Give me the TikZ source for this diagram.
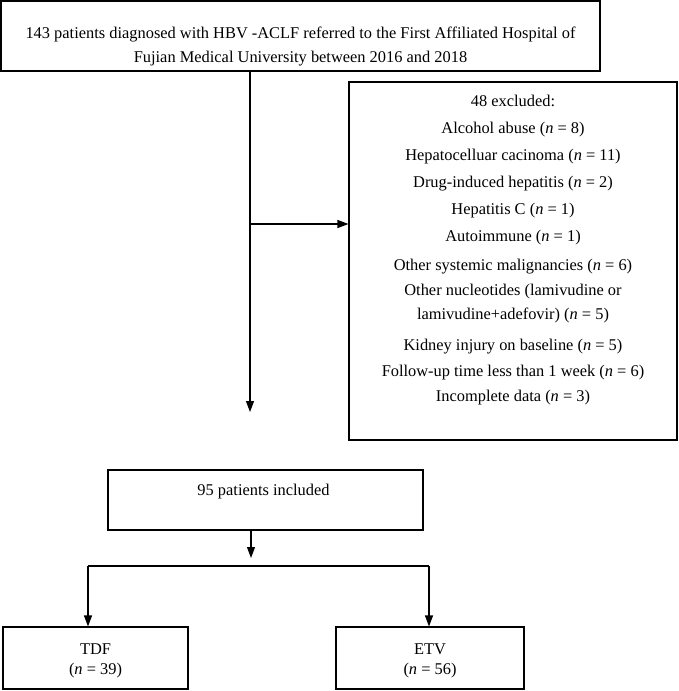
\documentclass[tikz,border=0pt]{standalone}
\usepackage{fontspec}
\setmainfont{Liberation Serif}
\usetikzlibrary{arrows.meta}
\begin{document}
\begin{tikzpicture}[x=1pt,y=-1pt,
  box/.style={draw=black,line width=1.1pt,inner sep=0pt},
  txt/.style={font=\fontsize{16.4}{24}\selectfont,align=center,inner sep=0pt},
  arr/.style={line width=1.1pt,-{Triangle[length=11pt,width=8pt]}},
  ln/.style={line width=1.1pt}]
\useasboundingbox[fill=white] (0,0) rectangle (679,691);
% boxes
\node[box,minimum width=599pt,minimum height=70pt] (top) at (300.5,36) {};
\node[txt] (toptext) at (300.5,46) {143 patients diagnosed with HBV -ACLF referred to the First Affiliated Hospital of\\Fujian Medical University between 2016 and 2018};
\node[box,minimum width=328pt,minimum height=358pt] (excl) at (513,261) {};
\node[txt,font=\fontsize{16.4}{27}\selectfont,anchor=north] (excltext) at (513,94.5) {48 excluded:\\
Alcohol abuse (\textit{n} = 8)\\
Hepatocelluar cacinoma (\textit{n} = 11)\\
Drug-induced hepatitis (\textit{n} = 2)\\
Hepatitis C (\textit{n} = 1)\\
Autoimmune (\textit{n} = 1)\\[2pt]
Other systemic malignancies (\textit{n} = 6)\\[-2pt]
Other nucleotides (lamivudine or\\[-3pt]
lamivudine+adefovir) (\textit{n} = 5)\\[4pt]
Kidney injury on baseline (\textit{n} = 5)\\[-1pt]
Follow-up time less than 1 week (\textit{n} = 6)\\[-2pt]
Incomplete data (\textit{n} = 3)};
\node[box,minimum width=315pt,minimum height=60pt] (incl) at (265.5,500) {};
\node[txt] (incltext) at (263.5,492) {95 patients included};
\node[box,minimum width=185pt,minimum height=62pt] (tdf) at (95.5,658) {};
\node[txt,font=\fontsize{16.4}{20}\selectfont] (tdftext) at (95.5,661) {TDF\\(\textit{n} = 39)};
\node[box,minimum width=188pt,minimum height=62pt] (etv) at (430,658) {};
\node[txt,font=\fontsize{16.4}{20}\selectfont] (etvtext) at (430,661) {ETV\\(\textit{n} = 56)};
% connectors
\coordinate (v1) at (250,0);
\coordinate (endA) at (250,412);
\coordinate (br) at (250,224);
\draw[arr] (top.south -| v1) -- (endA);
\draw[arr] (br) -- (br -| excl.west);
\coordinate (v2) at (251,0);
\coordinate (endB) at (251,558);
\draw[arr] (incl.south -| v2) -- (endB);
\coordinate (hl) at (88,566);
\coordinate (hr) at (429,566);
\draw[ln] (hl) -- (hr);
\draw[arr] (hl) -- (hl |- tdf.north);
\draw[arr] (hr) -- (hr |- etv.north);
\end{tikzpicture}
\end{document}
